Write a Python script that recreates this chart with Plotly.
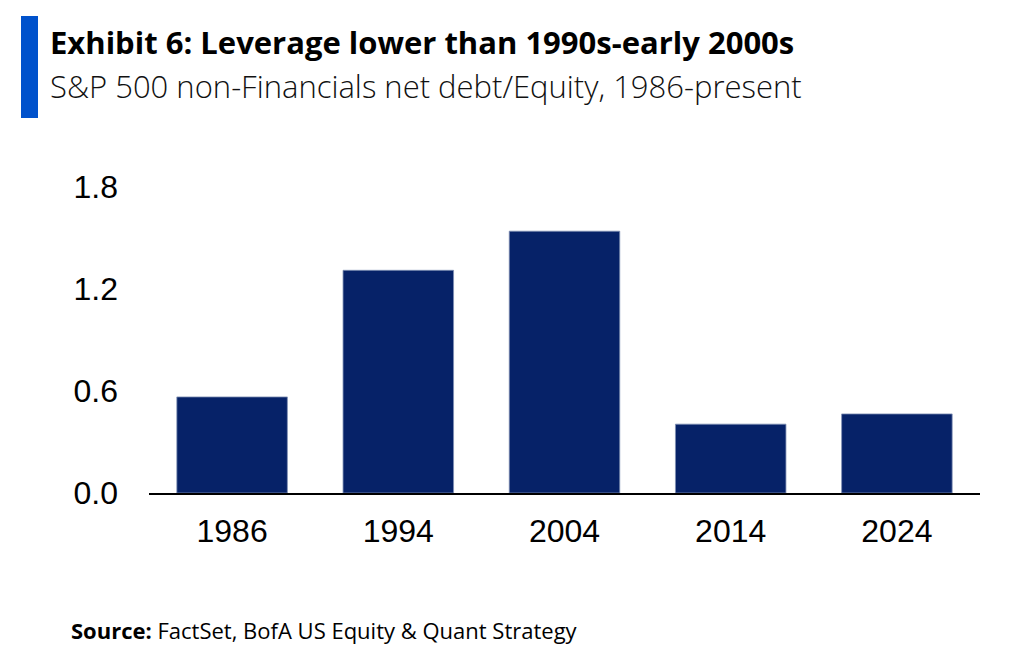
import plotly.graph_objects as go

# Exhibit 6 data: net debt / equity, S&P 500 non-financials
years = ["1986", "1994", "2004", "2014", "2024"]
net_debt_equity = [0.565, 1.31, 1.54, 0.405, 0.465]
y_ticks = [0.0, 0.6, 1.2, 1.8]
y_tick_text = ["0.0", "0.6", "1.2", "1.8"]

NAVY = "#062268"
BLUE = "#0052CC"
W, H = 1030, 658
OFF = 8  # page body margin the browser adds
L, R, T, B = 149 - OFF, 58, 187 - OFF, 173
PW, PH = W - L - R, H - T - B


def px_x(p):
    return (p - OFF - L) / PW


def px_y(p):
    return (H - B - (p - OFF)) / PH


fig = go.Figure(go.Bar(
    x=years,
    y=net_debt_equity,
    marker=dict(color=NAVY, line=dict(color="#8090b4", width=0.8)),
    width=0.665,
    hoverinfo="x+y",
))

fig.update_layout(
    width=W,
    height=H,
    margin=dict(l=L, r=R, t=T, b=B),
    plot_bgcolor="white",
    paper_bgcolor="white",
    showlegend=False,
    font=dict(family="Liberation Sans Narrow, Arial Narrow, Liberation Sans, Arial", color="black", size=32),
)

fig.update_xaxes(
    showline=True, linecolor="black", linewidth=2,
    showgrid=False, ticks="",
    ticklabelstandoff=9,
    tickfont=dict(size=32),
)
fig.update_yaxes(
    range=[0, 1.8],
    tickvals=y_ticks, ticktext=y_tick_text,
    showgrid=False, zeroline=False, showline=False, ticks="",
    ticklabelstandoff=30,
    tickfont=dict(size=32),
)

# blue accent bar next to the heading
fig.add_shape(type="rect", xref="paper", yref="paper",
              x0=px_x(21), x1=px_x(38), y0=px_y(118), y1=px_y(16),
              fillcolor=BLUE, line=dict(width=0))

fig.add_annotation(
    text="<b>Exhibit 6: Leverage lower than 1990s-early 2000s</b>",
    xref="paper", yref="paper", x=px_x(48), y=px_y(42),
    xanchor="left", yanchor="middle", showarrow=False,
    font=dict(family="Open Sans", size=31, color="black"),
)
fig.add_annotation(
    text="S&P 500 non-Financials net debt/Equity, 1986-present",
    xref="paper", yref="paper", x=px_x(48), y=px_y(86),
    xanchor="left", yanchor="middle", showarrow=False,
    font=dict(family="Open Sans", size=31, color="#111111", weight=300),
)
fig.add_annotation(
    text="<b>Source:</b> FactSet, BofA US Equity & Quant Strategy",
    xref="paper", yref="paper", x=px_x(69), y=px_y(630),
    xanchor="left", yanchor="middle", showarrow=False,
    font=dict(family="Open Sans", size=22, color="black"),
)

fig.write_html("out.html")
